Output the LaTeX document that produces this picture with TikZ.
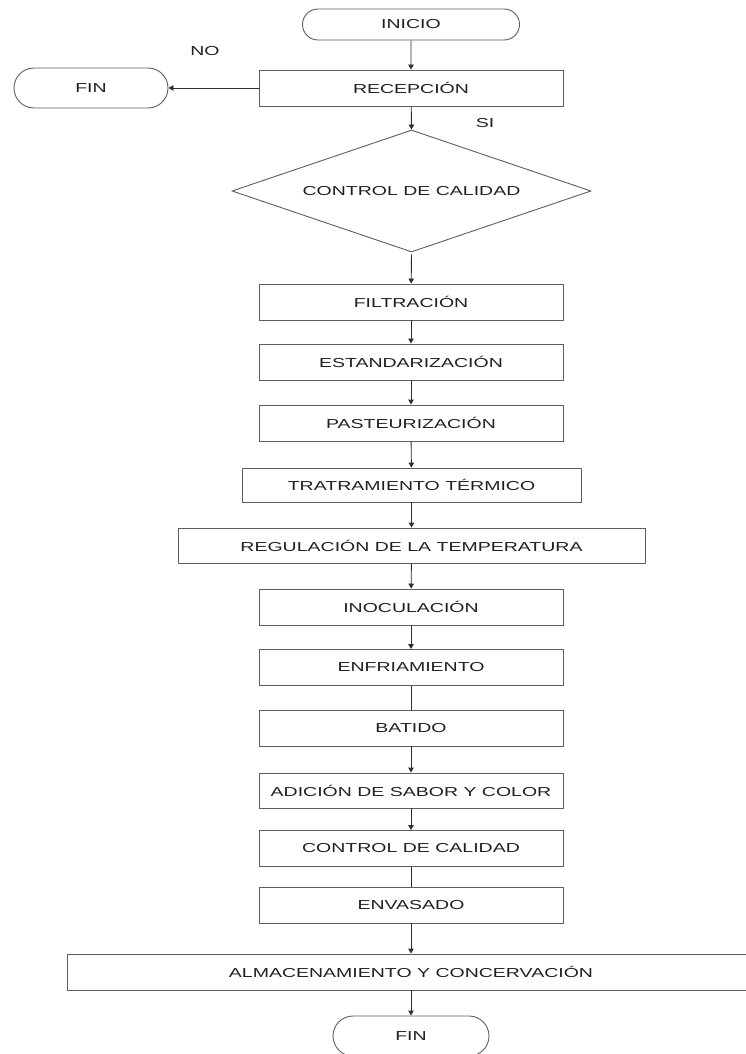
\documentclass[tikz,border=0pt]{standalone}
\usepackage{fontspec}
\setmainfont{Liberation Sans}[FakeStretch=1.5]
\usetikzlibrary{shapes.geometric,shapes.misc,arrows.meta}
\definecolor{boxgray}{HTML}{5E5E5E}
\definecolor{linegray}{HTML}{2E2E2E}
\definecolor{txt}{HTML}{202020}
\begin{document}
\begin{tikzpicture}[x=1pt,y=-1pt,
  font=\fontsize{13}{15}\selectfont,
  every node/.style={text=txt},
  procbox/.style={draw=boxgray, line width=0.9pt, rectangle, inner sep=0pt,
                  minimum width=304pt, minimum height=36pt},
  termbox/.style={draw=boxgray, line width=0.9pt, rounded rectangle, inner sep=0pt,
                  minimum width=156pt, minimum height=40pt},
  decision/.style={draw=boxgray, line width=0.9pt, diamond, inner sep=0pt,
                   aspect=2.943, minimum width=359pt, minimum height=122pt},
  flow/.style={draw=linegray, line width=0.9pt, -{Triangle[length=5pt,width=5.5pt]}},
  plainflow/.style={draw=linegray, line width=0.9pt}
]
\clip (0,0) rectangle (746,1054);

% terminals
\node[termbox, minimum width=217pt, minimum height=31pt] (inicio) at (411,24.5) {INICIO};
\node[termbox, minimum width=154pt] (finA) at (91,88) {FIN};

% reception and first decision
\node[procbox] (recep) at (411,88) {RECEPCIÓN};
\node[decision] (cc1) at (411.5,191) {CONTROL DE CALIDAD};
\node (no) at (205,51) {NO};
\node (si) at (485,123) {SI};

% process steps
\node[procbox] (filt)  at (411,302)   {FILTRACIÓN};
\node[procbox] (estd)  at (411,362)   {ESTANDARIZACIÓN};
\node[procbox] (past)  at (411,423)   {PASTEURIZACIÓN};
\node[procbox, minimum width=339pt, minimum height=34pt] (trat) at (411.5,485) {TRATRAMIENTO TÉRMICO};
\node[procbox, minimum width=467pt, minimum height=35pt] (regu) at (411.5,545.5) {REGULACIÓN DE LA TEMPERATURA};
\node[procbox] (inoc)  at (411,607)   {INOCULACIÓN};
\node[procbox] (enfr)  at (411,667.5) {ENFRIAMIENTO};
\node[procbox] (bati)  at (411,728)   {BATIDO};
\node[procbox, minimum height=35pt] (adic) at (411,790.5) {ADICIÓN DE SABOR Y COLOR};
\node[procbox] (cc2)   at (411,848.5) {CONTROL DE CALIDAD};
\node[procbox] (envs)  at (411,905)   {ENVASADO};
\node[procbox, minimum width=688pt] (alma) at (411,972) {ALMACENAMIENTO Y CONCERVACIÓN};
\node[termbox] (finB) at (411,1036) {FIN};

% connectors
\draw[flow] (inicio) -- (recep);
\draw[flow] (recep.west) -- (finA.east);
\draw[flow] (recep) -- (cc1.north);
\draw[flow, shorten <=2pt] (cc1.south) -- (filt);
\draw[flow] (filt) -- (estd);
\draw[flow] (estd) -- (past);
\draw[flow] (past) -- (trat);
\draw[flow] (trat) -- (regu);
\draw[flow] (regu) -- (inoc);
\draw[flow] (inoc) -- (enfr);
\draw[plainflow] (enfr) -- (bati);
\draw[flow] (bati) -- (adic);
\draw[flow] (adic) -- (cc2);
\draw[plainflow] (cc2) -- (envs);
\draw[flow] (envs) -- (alma);
\draw[flow] (alma) -- (finB);
\end{tikzpicture}
\end{document}
